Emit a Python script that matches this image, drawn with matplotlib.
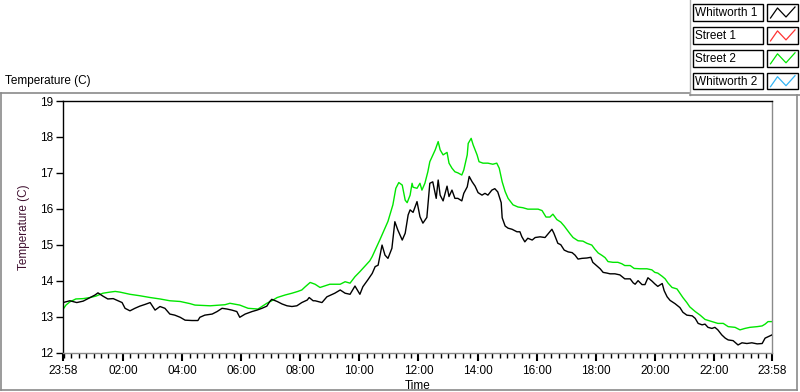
import matplotlib
matplotlib.use("Agg")
import matplotlib.pyplot as plt
from matplotlib.patches import Rectangle
from matplotlib.lines import Line2D
from matplotlib.ticker import FixedLocator

plt.rcParams['font.family'] = ['Liberation Sans', 'DejaVu Sans']

# ---------------- data ----------------
# time = minutes after 23:58 (start of chart)
w1_time = [0, 14, 28, 41, 55, 65, 71, 81, 91, 102, 112, 120, 126, 136, 146, 156, 167, 177, 187, 197,
           207, 217, 227, 238, 248, 262, 274, 278, 288, 303, 313, 323, 333, 343, 353, 359, 370, 384, 394,
           404, 414, 420, 424, 435, 445, 455, 465, 475, 485, 496, 500, 508,
           512, 526, 536, 552, 563, 573, 583, 593, 603, 609, 619, 628, 634, 640, 648, 654, 660, 668, 674,
           680, 689, 695, 701, 705, 711, 719, 725, 731, 739, 745, 751, 758, 762,
           766, 772, 780, 784, 790, 796, 802, 810, 814, 821, 825, 831, 837, 843, 851, 857, 863, 871, 877,
           883, 890, 892, 898, 904, 912, 922, 928, 932, 938, 944, 953, 959, 969, 979, 985, 993, 997, 1005,
           1011, 1018, 1026, 1034, 1040, 1046, 1054, 1064, 1072, 1076, 1085, 1091, 1097, 1105, 1111, 1121,
           1131, 1141, 1152, 1158, 1162, 1168, 1176, 1182, 1188, 1196, 1202, 1208, 1217, 1221, 1227, 1233,
           1243, 1253, 1259, 1267, 1278, 1284, 1290, 1298, 1304, 1310, 1318, 1324, 1330, 1338, 1345, 1351,
           1361, 1371, 1379, 1389, 1399, 1410, 1420, 1426, 1432, 1440]
w1_temp = [13.39, 13.44, 13.39, 13.43, 13.53, 13.60, 13.66, 13.57, 13.49, 13.50, 13.44, 13.39, 13.23, 13.16,
           13.23, 13.29, 13.34, 13.39, 13.18, 13.28, 13.23, 13.07, 13.04, 12.98, 12.90, 12.89, 12.89, 12.98,
           13.04, 13.07, 13.14, 13.23, 13.21, 13.18, 13.14, 12.98, 13.07, 13.14, 13.18, 13.23, 13.29, 13.42,
           13.48, 13.42, 13.35, 13.30, 13.28, 13.30, 13.39, 13.46, 13.53, 13.44,
           13.44, 13.39, 13.55, 13.65, 13.74, 13.65, 13.62, 13.85, 13.62, 13.83, 14.02, 14.20, 14.39, 14.43,
           14.99, 14.71, 14.62, 14.90, 15.64, 15.41, 15.13, 15.32, 15.83, 15.97, 15.90, 16.20, 15.78, 15.60,
           15.76, 16.71, 16.75, 16.29, 16.80,
           16.38, 16.22, 16.63, 16.34, 16.52, 16.29, 16.29, 16.22, 16.43, 16.61, 16.90, 16.75, 16.63, 16.45,
           16.38, 16.43, 16.38, 16.52, 16.56, 16.47, 16.17, 15.75, 15.52, 15.46, 15.43, 15.36, 15.36, 15.22,
           15.08, 15.18, 15.13, 15.20, 15.22, 15.20, 15.30, 15.43, 15.32, 15.04, 15.00, 14.85, 14.80, 14.78,
           14.71, 14.60, 14.62, 14.63, 14.65, 14.51, 14.40, 14.33, 14.23, 14.21, 14.19, 14.19, 14.16, 14.05,
           14.05, 13.94, 13.90, 14.00, 13.89, 13.89, 14.08, 13.99, 13.91, 13.84, 13.92, 13.72, 13.55, 13.45,
           13.36, 13.25, 13.12, 13.04, 13.02, 12.95, 12.81, 12.77, 12.79, 12.70, 12.67, 12.70, 12.63, 12.49,
           12.40, 12.35, 12.33, 12.21, 12.27, 12.25, 12.27, 12.24, 12.25, 12.40, 12.44, 12.49]

s2_time = [0, 6, 14, 26, 41, 55, 67, 81, 95, 106, 116, 126, 136, 156, 177, 197, 217, 238, 258, 268, 299,
           329, 339, 359, 376, 396, 404, 414, 424, 435, 451, 465, 477, 485, 492, 502, 512, 522, 542, 563,
           573, 583, 593, 603, 613, 623, 628, 634, 644, 660, 670, 676, 682, 689, 695, 699, 705, 709, 711,
           719, 725, 729, 735, 741, 745, 756, 762, 766, 772, 780, 784, 790, 796, 802, 810, 814, 821, 823,
           829, 833, 841, 845, 853, 863, 873, 881, 886, 892, 898, 904, 914, 924, 934, 944, 955, 965, 973,
           981, 989, 995, 1003, 1011, 1018, 1024, 1030, 1036, 1046, 1056, 1064, 1074, 1080, 1087, 1095,
           1101, 1107, 1117, 1127, 1135, 1141, 1152, 1160, 1172, 1186, 1196, 1202, 1208, 1217, 1223, 1229,
           1237, 1247, 1253, 1259, 1267, 1273, 1284, 1294, 1304, 1318, 1330, 1341, 1351, 1365, 1375, 1385,
           1395, 1410, 1420, 1426, 1432, 1440]
s2_temp = [13.20, 13.32, 13.41, 13.49, 13.50, 13.53, 13.57, 13.65, 13.68, 13.70, 13.68, 13.65, 13.62, 13.58,
           13.53, 13.49, 13.44, 13.42, 13.36, 13.32, 13.30, 13.33, 13.37, 13.32, 13.23, 13.21, 13.28, 13.37,
           13.44, 13.53, 13.60, 13.65, 13.70, 13.74, 13.83, 13.95, 13.90, 13.81, 13.90, 13.90, 13.97, 13.93,
           14.11, 14.25, 14.40, 14.55, 14.67, 14.85, 15.15, 15.65, 16.11, 16.57, 16.73, 16.66, 16.24, 16.17,
           16.38, 16.71, 16.60, 16.57, 16.71, 16.52, 16.71, 17.03, 17.31, 17.64, 17.87, 17.64, 17.50, 17.57,
           17.27, 17.13, 17.03, 17.00, 16.94, 17.08, 17.50, 17.82, 17.96, 17.78, 17.50, 17.31, 17.27, 17.27,
           17.24, 17.27, 17.13, 16.75, 16.48, 16.29, 16.11, 16.05, 16.03, 15.99, 15.99, 15.99, 15.95, 15.77,
           15.77, 15.85, 15.70, 15.63, 15.52, 15.41, 15.30, 15.20, 15.11, 15.10, 15.04, 14.99, 14.88, 14.77,
           14.70, 14.64, 14.53, 14.51, 14.51, 14.47, 14.42, 14.42, 14.34, 14.33, 14.33, 14.30, 14.23, 14.21,
           14.12, 14.05, 13.93, 13.81, 13.77, 13.65, 13.53, 13.39, 13.27, 13.14, 13.04, 12.92, 12.86, 12.81,
           12.81, 12.72, 12.70, 12.63, 12.67, 12.70, 12.72, 12.74, 12.79, 12.86, 12.86]

legend_names = ["Whitworth 1", "Street 1", "Street 2", "Whitworth 2"]
legend_colors = ["#000000", "#ff3333", "#00e600", "#33b5f5"]

xtick_pos = [0, 122, 242, 362, 482, 602, 722, 842, 962, 1082, 1202, 1322, 1440]
xtick_labels = ["23:58", "02:00", "04:00", "06:00", "08:00", "10:00", "12:00", "14:00", "16:00",
                "18:00", "20:00", "22:00", "23:58"]
yticks = [12, 13, 14, 15, 16, 17, 18, 19]

# ---------------- figure ----------------
W, H = 800, 392
fig = plt.figure(figsize=(W / 100, H / 100), dpi=100)
fig.patch.set_facecolor("white")

def fx(px):
    return px / W

def fy(py):
    return 1 - py / H

L, R, T, B = 63, 772, 101, 352.5
ax = fig.add_axes([fx(L), fy(B), fx(R) - fx(L), fy(T) - fy(B)])

ax.plot(s2_time, s2_temp, color=legend_colors[2], lw=1.0, zorder=2)
ax.plot(w1_time, w1_temp, color=legend_colors[0], lw=1.0, zorder=3)

ax.set_xlim(0, 1440)
ax.set_ylim(12, 19)
ax.set_yticks(yticks)
ax.set_xticks(xtick_pos)
ax.set_xticklabels(xtick_labels)
minor = [m for m in range(2, 1440, 15) if m not in xtick_pos]
ax.xaxis.set_minor_locator(FixedLocator(minor))

for side in ["left", "top"]:
    ax.spines[side].set_color("black")
    ax.spines[side].set_linewidth(1.0)
for side in ["right", "bottom"]:
    ax.spines[side].set_color("#8a8a8a")
    ax.spines[side].set_linewidth(1.0)

ax.tick_params(axis="y", direction="out", length=5, width=1, labelsize=8.5, pad=2, colors="black")
ax.tick_params(axis="x", which="major", direction="out", length=6, width=1.5, labelsize=8.5, pad=3)
ax.tick_params(axis="x", which="minor", direction="out", length=3.5, width=1)

ax.set_xlabel("Time", fontsize=8.5, labelpad=2)
ax.set_ylabel("Temperature (C)", fontsize=8.5, color="#401030", labelpad=7)

# chart title
fig.text(fx(5), fy(81), "Temperature (C)", fontsize=8.5, ha="left", va="center")

# outer frame
frame_col = "#8a8a8a"
fig.add_artist(Line2D([fx(1), fx(690)], [fy(93), fy(93)], color=frame_col, lw=1.2))
fig.add_artist(Line2D([fx(1), fx(1)], [fy(93), fy(390)], color=frame_col, lw=1.2))
fig.add_artist(Line2D([fx(1), fx(797)], [fy(390), fy(390)], color=frame_col, lw=1.2))
fig.add_artist(Line2D([fx(797), fx(797)], [fy(95), fy(390)], color=frame_col, lw=1.2))
fig.add_artist(Line2D([fx(690), fx(690)], [fy(0), fy(95)], color="#b0b0b0", lw=1.0))
fig.add_artist(Line2D([fx(690), fx(800)], [fy(95), fy(95)], color=frame_col, lw=1.2))

# legend
for i, (name, col) in enumerate(zip(legend_names, legend_colors)):
    top = 4 + i * 22.9
    bot = top + 16.7
    fig.add_artist(Rectangle((fx(693), fy(bot)), fx(763) - fx(693), fy(top) - fy(bot),
                             transform=fig.transFigure, facecolor="white", edgecolor="black", lw=1.0))
    fig.text(fx(695), fy((top + bot) / 2 + 0.5), name, fontsize=8.5, ha="left", va="center")
    fig.add_artist(Rectangle((fx(767), fy(bot)), fx(798) - fx(767), fy(top) - fy(bot),
                             transform=fig.transFigure, facecolor="white", edgecolor="black", lw=1.0))
    zx = [fx(770.5), fx(777.5), fx(786), fx(795)]
    zy = [fy(top + 14), fy(top + 4), fy(top + 13), fy(top + 3)]
    fig.add_artist(Line2D(zx, zy, color=col, lw=0.9))

fig.savefig("out.png", dpi=100, facecolor="white")
